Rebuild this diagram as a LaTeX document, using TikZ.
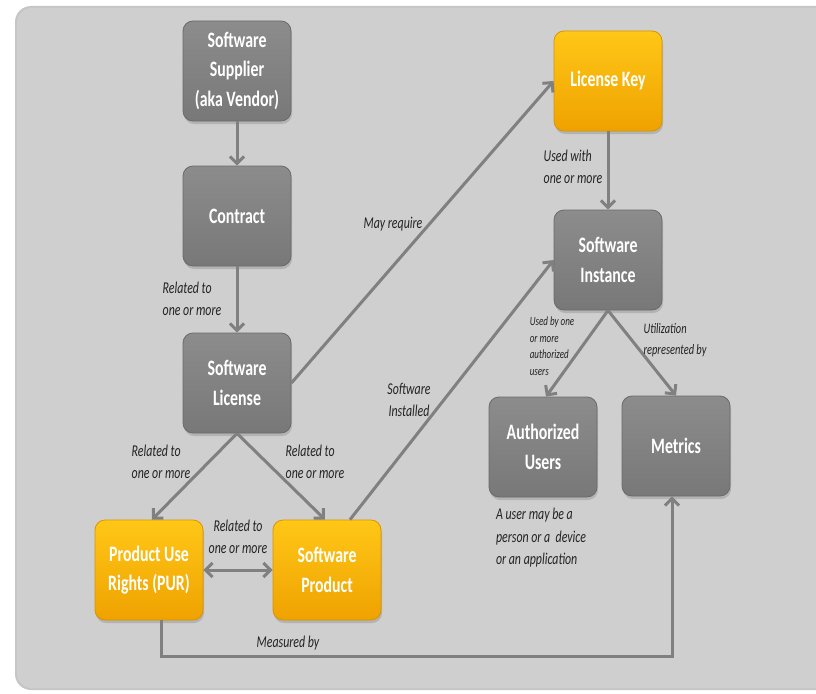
\documentclass[tikz,border=0pt]{standalone}
\usepackage{fontspec}
\setmainfont{Carlito}
\newfontfamily\boxfont[FakeStretch=0.72]{Carlito}
\usetikzlibrary{arrows.meta,shadows}
\definecolor{panel}{HTML}{CFCFCF}
\definecolor{conn}{HTML}{808080}
\definecolor{graytop}{HTML}{8C8C8C}
\definecolor{graybot}{HTML}{787878}
\definecolor{grayedge}{HTML}{6A6A6A}
\definecolor{orgtop}{HTML}{FFC717}
\definecolor{orgbot}{HTML}{EFA200}
\definecolor{orgedge}{HTML}{D99400}
\definecolor{labtext}{HTML}{222222}
\tikzset{
  entity/.style={rounded corners=10pt, minimum width=108pt, minimum height=100pt,
    align=center, text=white, font=\boxfont\bfseries\fontsize{22}{29.5}\selectfont,
    line width=0.8pt, drop shadow={shadow xshift=1pt, shadow yshift=-3pt, opacity=0.35}},
  graybox/.style={entity, draw=grayedge, top color=graytop, bottom color=graybot},
  orgbox/.style={entity, draw=orgedge, top color=orgtop, bottom color=orgbot},
  conn/.style={draw=conn, line width=3pt, -{Straight Barb[length=7pt,width=14pt]}},
  lab/.style={text=labtext, font=\boxfont\itshape\fontsize{16.5}{22.5}\selectfont, align=left, inner sep=0pt},
  smalllab/.style={text=labtext, font=\boxfont\itshape\fontsize{12.5}{16.5}\selectfont, align=left, inner sep=0pt}
}
\begin{document}
\begin{tikzpicture}[x=1pt,y=-1pt]
\useasboundingbox (0,0) rectangle (816,693);
\fill[white] (0,0) rectangle (816,693);
\fill[gray!45, rounded corners=16pt] (15,6) rectangle (840,690);
\fill[panel, rounded corners=15pt] (17,8) rectangle (840,688);

\node[graybox] (sup) at (237,71) {Software\\Supplier\\(aka Vendor)};
\node[graybox] (con) at (237,216) {Contract};
\node[graybox] (lic) at (237,383) {Software\\License};
\node[orgbox] (key) at (608,81) {License Key};
\node[graybox] (inst) at (608,260) {Software\\Instance};
\node[graybox] (auth) at (543,447) {Authorized\\Users};
\node[graybox] (met) at (676,446) {Metrics};
\node[orgbox] (pur) at (149,570) {Product Use\\Rights (PUR)};
\node[orgbox] (prod) at (327,570) {Software\\Product};

\draw[conn] (sup.south) -- (con.north);
\draw[conn] (con.south) -- (lic.north);
\draw[conn] (lic.east) -- (key.west);
\draw[conn] (lic.south) -- ([xshift=3pt]pur.north);
\draw[conn] (lic.south) -- ([xshift=-2pt]prod.north);
\draw[conn, {Straight Barb[length=7pt,width=14pt]}-{Straight Barb[length=7pt,width=14pt]}] (pur.east) -- (prod.west);
\draw[conn] ([xshift=23pt]prod.north) -- (inst.west);
\draw[conn] (key.south) -- (inst.north);
\draw[conn] (inst.south) -- ([xshift=3pt]auth.north);
\draw[conn] (inst.south) -- (met.north);
\coordinate (m1) at ([xshift=12pt]pur.south);
\coordinate (m2) at ([xshift=-4pt]met.south);
\draw[conn] (m1) -- (m1 |- 0,656) -- (m2 |- 0,656) -- (m2);

\node[lab] at (192,299) {Related to\\one or more};
\node[lab] at (393,224) {May require};
\node[lab] at (161,462) {Related to\\one or more};
\node[lab] at (315,462) {Related to\\one or more};
\node[lab, align=center] at (238,537) {Related to\\one or more};
\node[lab, align=center] at (409,400) {Software\\Installed};
\node[lab] at (573,167) {Used with\\one or more};
\node[smalllab] at (552,346) {Used by one\\or more\\authorized\\users};
\node[lab, font=\boxfont\itshape\fontsize{14.5}{21}\selectfont] at (675,340) {Utilization\\represented by};
\node[lab] at (541,538) {A user may be a\\person or a\ \ device\\or an application};
\node[lab] at (288,643) {Measured by};
\end{tikzpicture}
\end{document}
